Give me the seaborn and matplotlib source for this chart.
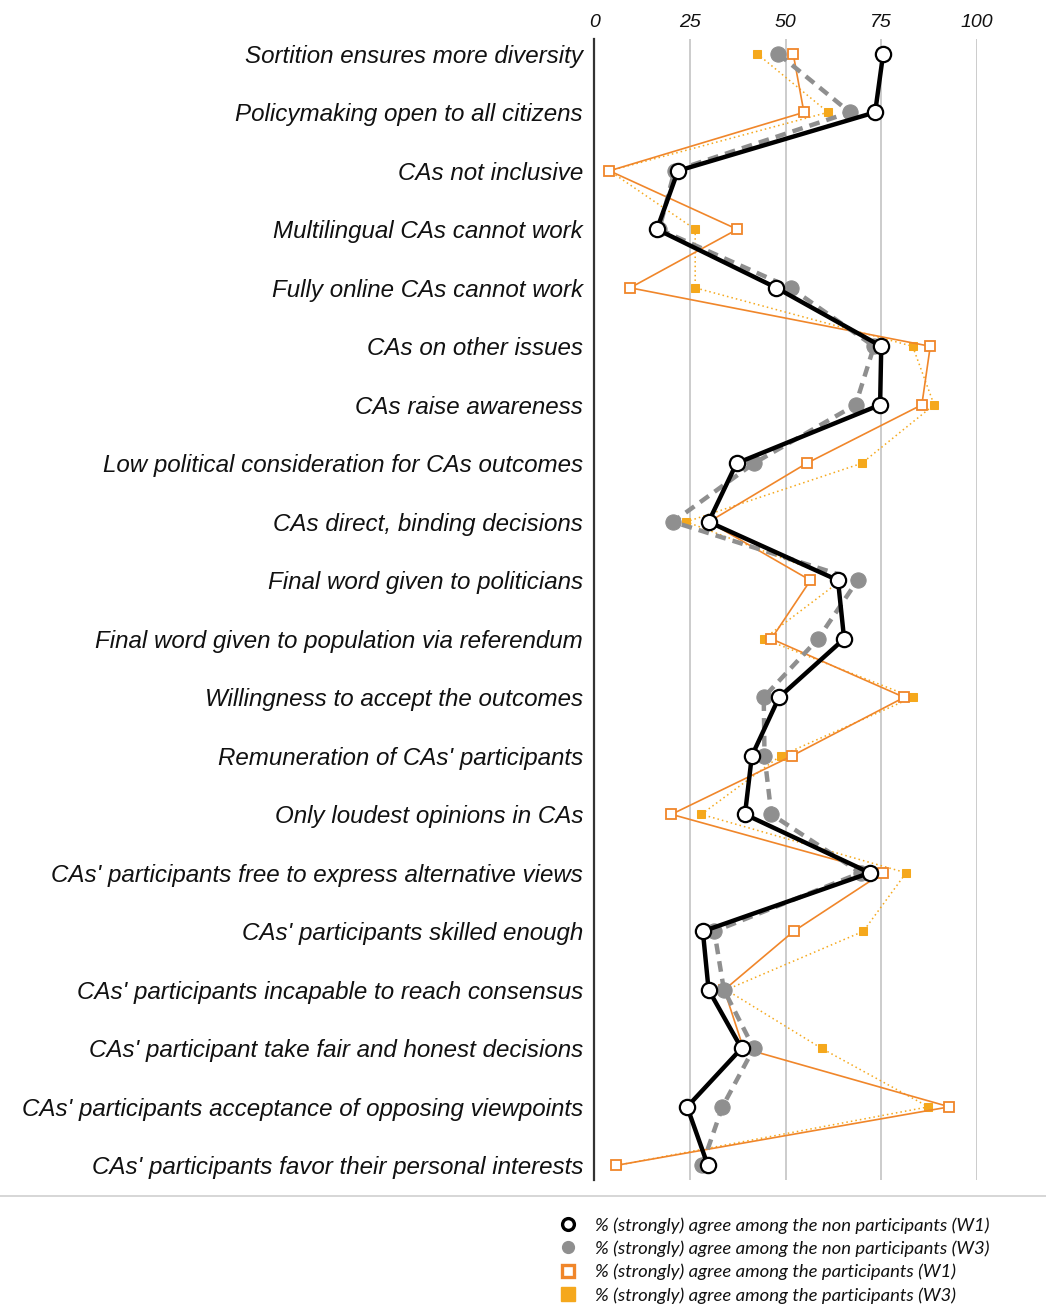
import matplotlib
matplotlib.use("Agg")
import matplotlib.pyplot as plt
from matplotlib.lines import Line2D
import seaborn as sns
import pandas as pd

statements = [
    "Sortition ensures more diversity",
    "Policymaking open to all citizens",
    "CAs not inclusive",
    "Multilingual CAs cannot work",
    "Fully online CAs cannot work",
    "CAs on other issues",
    "CAs raise awareness",
    "Low political consideration for CAs outcomes",
    "CAs direct, binding decisions",
    "Final word given to politicians",
    "Final word given to population via referendum",
    "Willingness to accept the outcomes",
    "Remuneration of CAs' participants",
    "Only loudest opinions in CAs",
    "CAs' participants free to express alternative views",
    "CAs' participants skilled enough",
    "CAs' participants incapable to reach consensus",
    "CAs' participant take fair and honest decisions",
    "CAs' participants acceptance of opposing viewpoints",
    "CAs' participants favor their personal interests",
]

non_part_w1 = [75.5, 73.4, 21.9, 16.4, 47.6, 75.0, 74.7, 37.2, 29.9, 63.7,
               65.3, 48.3, 41.2, 39.4, 72.0, 28.4, 29.9, 38.5, 24.3, 29.7]
non_part_w3 = [48.1, 66.8, 21.0, 17.0, 51.3, 73.1, 68.3, 41.7, 20.6, 68.8,
               58.5, 44.3, 44.5, 46.3, 69.6, 31.4, 33.9, 41.7, 33.5, 28.2]
part_w1 = [52.0, 54.8, 4.0, 37.4, 9.4, 87.8, 85.6, 55.5, 30.0, 56.5,
           46.3, 81.0, 51.7, 20.2, 75.4, 52.1, 34.0, 39.0, 92.8, 5.8]
part_w3 = [42.6, 61.1, 4.0, 26.4, 26.4, 83.2, 88.8, 69.9, 24.1, 64.5,
           44.3, 83.2, 48.7, 28.0, 81.5, 70.3, 34.5, 59.4, 87.3, 6.0]

legend_labels = [
    "% (strongly) agree among the non participants (W1)",
    "% (strongly) agree among the non participants (W3)",
    "% (strongly) agree among the participants (W1)",
    "% (strongly) agree among the participants (W3)",
]

ORANGE = "#f0862a"
GOLD = "#f5a81c"
GREY = "#8f8f8f"
INK = "#111111"

sns.set_theme(style="white")
plt.rcParams["font.family"] = ["Liberation Sans", "DejaVu Sans"]

fig = plt.figure(figsize=(10.46, 13.06), dpi=100)
ax = fig.add_axes([0.568, 0.0965, 0.366, 0.8735])

rows = list(range(len(statements)))


def frame(values):
    return pd.DataFrame({"value": values, "row": rows})


common = dict(x="value", y="row", sort=False, estimator=None, orient="y", ax=ax)

sns.lineplot(data=frame(part_w3), color=GOLD, lw=1.1, linestyle=(0, (1, 2)),
             marker="s", markersize=6, markerfacecolor=GOLD, markeredgecolor=GOLD,
             zorder=3, **common)
sns.lineplot(data=frame(part_w1), color=ORANGE, lw=1.2, linestyle="-",
             marker="s", markersize=6.5, markerfacecolor="white",
             markeredgecolor=ORANGE, markeredgewidth=1.3, zorder=4, **common)
sns.lineplot(data=frame(non_part_w3), color=GREY, lw=3.2, linestyle=(0, (2.4, 1.6)),
             marker="o", markersize=11, markerfacecolor=GREY,
             markeredgecolor=GREY, zorder=5, **common)
sns.lineplot(data=frame(non_part_w1), color="black", lw=3.2, linestyle="-",
             marker="o", markersize=11, markerfacecolor="white",
             markeredgecolor="black", markeredgewidth=1.6, zorder=6, **common)

ax.set_xlim(0, 100)
ax.set_ylim(len(statements) - 0.75, -0.25)
ax.set_xticks([0, 25, 50, 75, 100])
ax.set_xticklabels(["0", "25", "50", "75", "100"], fontstyle="italic",
                   fontsize=14, color=INK)
ax.xaxis.tick_top()
ax.tick_params(axis="x", length=0, pad=6)
ax.set_yticks(rows)
ax.set_yticklabels(statements, fontstyle="italic", fontsize=17.4, color=INK)
ax.tick_params(axis="y", length=0, pad=8)
ax.set_xlabel("")
ax.set_ylabel("")
ax.xaxis.grid(True, color="#c4c4c4", lw=1.2)
ax.set_axisbelow(True)
for side in ["top", "right", "bottom"]:
    ax.spines[side].set_visible(False)
ax.spines["left"].set_color("#333333")
ax.spines["left"].set_linewidth(1.6)
ax.spines["left"].set_zorder(2)

# separator above the legend
fig.add_artist(Line2D([0.0, 1.0], [1 - 1196 / 1306, 1 - 1196 / 1306],
                      transform=fig.transFigure, color="#cfcfcf", lw=1.2))

handles = [
    Line2D([], [], linestyle="none", marker="o", markersize=8.5,
           markerfacecolor="white", markeredgecolor="black", markeredgewidth=2.4),
    Line2D([], [], linestyle="none", marker="o", markersize=8.5,
           markerfacecolor=GREY, markeredgecolor=GREY),
    Line2D([], [], linestyle="none", marker="s", markersize=8.5,
           markerfacecolor="white", markeredgecolor=ORANGE, markeredgewidth=2.4),
    Line2D([], [], linestyle="none", marker="s", markersize=9.5,
           markerfacecolor=GOLD, markeredgecolor=GOLD),
]
fig.legend(handles, legend_labels, loc="upper left",
           bbox_to_anchor=(559 / 1046, 1 - 1217 / 1306), frameon=False,
           prop={"family": "Lato", "style": "italic", "size": 13.3},
           labelcolor=INK, handlelength=1.0, handletextpad=0.96,
           labelspacing=0.37, borderaxespad=0, borderpad=0)

fig.savefig("out.png", dpi=100)
